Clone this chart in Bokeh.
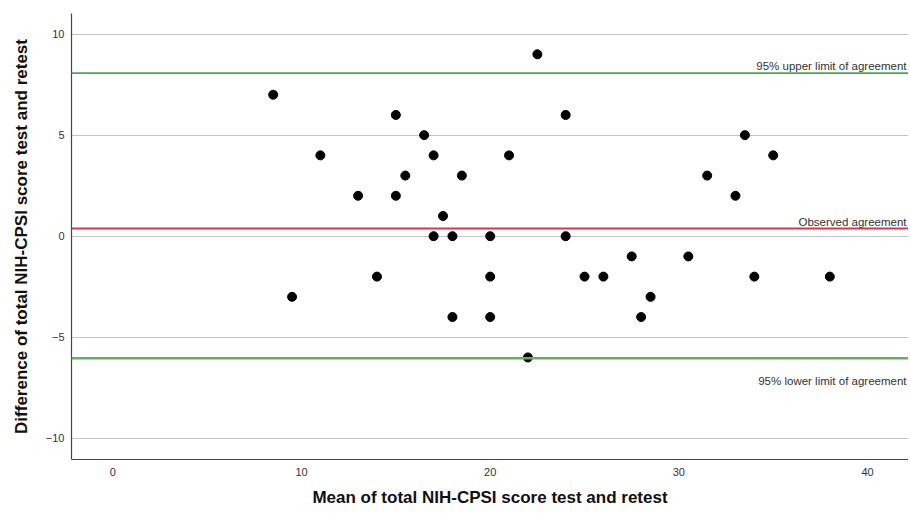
from bokeh.plotting import figure
from bokeh.models import Range1d, Span, FixedTicker, ColumnDataSource
from bokeh.core.properties import value
from bokeh.embed import file_html
from bokeh.resources import INLINE

# Data (Bland-Altman plot)
mean_score = [8.5, 9.5, 11, 13, 14, 15, 15, 15.5, 16.5, 17, 17, 17.5, 18, 18, 18.5,
              20, 20, 20, 21, 22, 22.5, 24, 24, 25, 26, 27.5, 28, 28.5, 30.5, 31.5,
              33, 33.5, 34, 35, 38]
diff_score = [7, -3, 4, 2, -2, 6, 2, 3, 5, 4, 0, 1, 0, -4, 3,
              0, -2, -4, 4, -6, 9, 6, 0, -2, -2, -1, -4, -3, -1, 3,
              2, 5, -2, 4, -2]

upper_loa = 8.07
observed = 0.38
lower_loa = -6.04

x_ticks = [0, 10, 20, 30, 40]
y_ticks = [-10, -5, 0, 5, 10]
y_tick_labels = {-10: "\u221210", -5: "\u22125", 0: "0", 5: "5", 10: "10"}

line_labels = ["95% upper limit of agreement", "Observed agreement", "95% lower limit of agreement"]

FONT = "Liberation Sans"

x_start, x_end = -2.19, 42.17
y_start, y_end = -11.05, 11.02

p = figure(width=908, height=509, output_backend="svg", toolbar_location=None,
           x_range=Range1d(x_start, x_end), y_range=Range1d(y_start, y_end),
           min_border_left=71, min_border_right=0, min_border_top=13, min_border_bottom=50)

p.outline_line_color = None
p.background_fill_color = "white"
p.border_fill_color = "white"

# grids
p.xgrid.grid_line_color = None
p.ygrid.grid_line_color = "#c4c4c4"
p.ygrid.grid_line_width = 1

# axes
for ax in (p.xaxis[0], p.yaxis[0]):
    ax.axis_line_color = "#444444"
    ax.axis_line_width = 1.2
    ax.major_tick_line_color = None
    ax.minor_tick_line_color = None
    ax.major_tick_out = 0
    ax.major_tick_in = 0
    ax.major_label_text_font = FONT
    ax.major_label_text_font_size = "11px"
    ax.major_label_text_color = "#333333"
    ax.axis_label_text_font = FONT
    ax.axis_label_text_font_size = "17px"
    ax.axis_label_text_font_style = "bold"
    ax.axis_label_text_color = "#111111"
    ax.major_label_standoff = 7

p.xaxis[0].major_label_standoff = 8
p.xaxis[0].ticker = FixedTicker(ticks=x_ticks)
p.yaxis[0].ticker = FixedTicker(ticks=y_ticks)
p.yaxis[0].major_label_overrides = y_tick_labels
p.xaxis[0].axis_label = "Mean of total NIH-CPSI score test and retest"
p.yaxis[0].axis_label = "Difference of total NIH-CPSI score test and retest"
p.xaxis[0].axis_label_standoff = 9
p.yaxis[0].axis_label_standoff = 12

# reference lines
p.add_layout(Span(location=upper_loa, dimension="width", line_color="#4fa84f", line_width=1.8))
p.add_layout(Span(location=observed, dimension="width", line_color="#e2334c", line_width=1.8))
p.add_layout(Span(location=lower_loa, dimension="width", line_color="#62b062", line_width=2.6))

# points
src = ColumnDataSource(dict(x=mean_score, y=diff_score))
p.scatter("x", "y", source=src, size=9, fill_color="black", line_color="black", marker="circle")

# line labels
lab_src = ColumnDataSource(dict(
    x=[x_end, x_end, x_end],
    y=[upper_loa, observed, lower_loa],
    text=line_labels,
    yoff=[-7, -7, 23],
))
p.text(x="x", y="y", text="text", source=lab_src, x_offset=-2, y_offset="yoff",
       text_align="right", text_baseline="alphabetic",
       text_font=value(FONT), text_font_size="11.5px", text_color="#333333")

open("out.html", "w").write(file_html(p, INLINE))
